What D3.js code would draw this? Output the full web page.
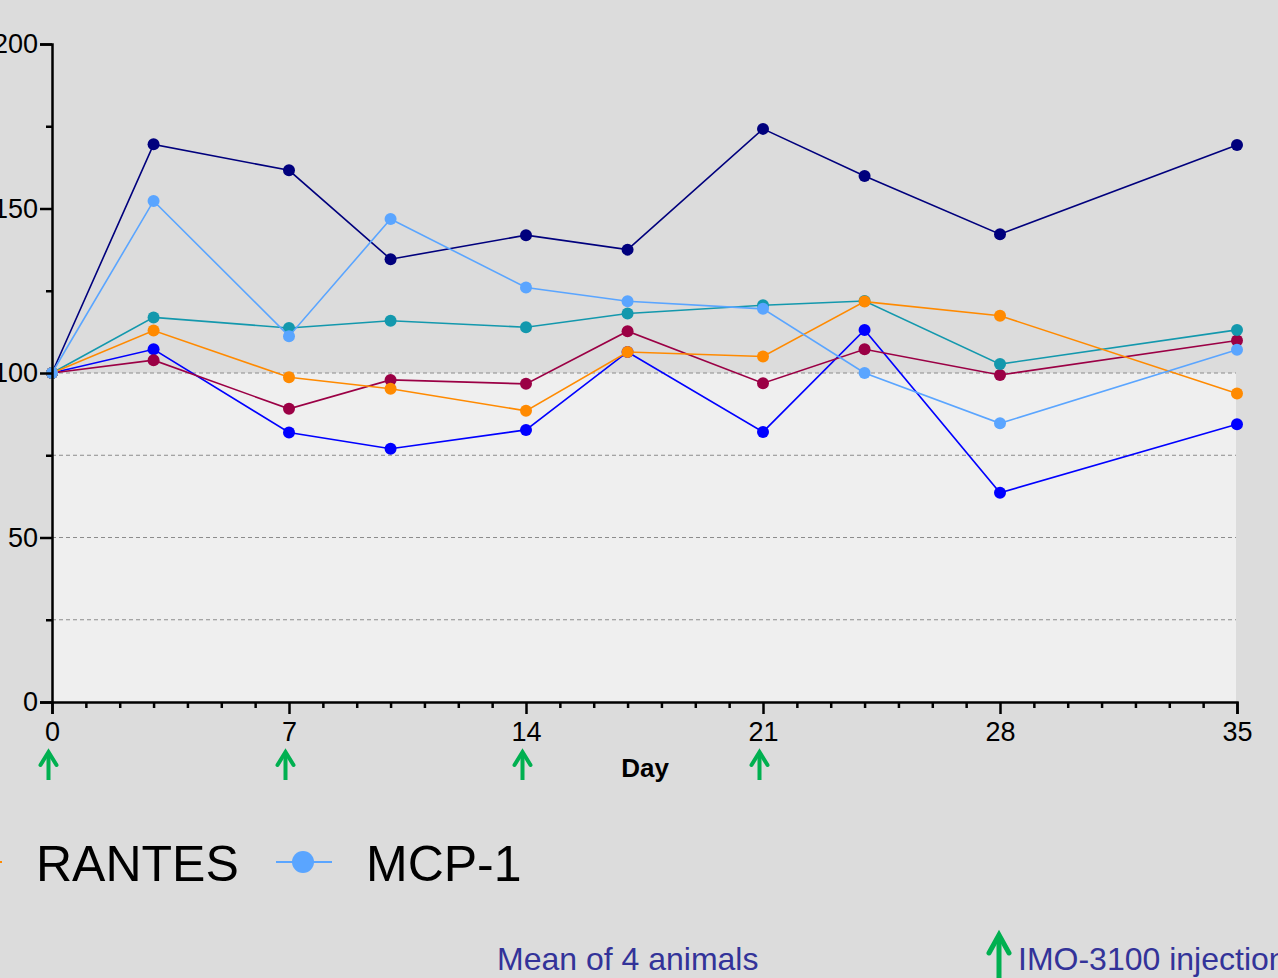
<!DOCTYPE html>
<html>
<head>
<meta charset="utf-8">
<script src="https://cdn.jsdelivr.net/npm/d3@7"></script>
<style>
  html, body { margin: 0; padding: 0; background: #dcdcdc; overflow: hidden; }
  svg { display: block; font-family: "Liberation Sans", Arial, sans-serif; }
</style>
</head>
<body>
<svg id="chart" width="1278" height="978"></svg>
<script>
// Sampling days and percent-of-baseline values per cytokine series
const days = [0, 3, 7, 10, 14, 17, 21, 24, 28, 35];
const navySeries   = [100, 169.5, 161.6, 134.6, 141.9, 137.5, 174.2, 159.9, 142.2, 169.3];
const blueSeries   = [100, 107.2, 81.9, 77.0, 82.7, 106.4, 82.1, 113.1, 63.6, 84.4];
const maroonSeries = [100, 103.9, 89.1, 97.9, 96.7, 112.7, 96.9, 107.2, 99.4, 109.9];
const tealSeries   = [100, 116.9, 113.7, 115.9, 113.9, 118.1, 120.6, 121.9, 102.7, 113.1];
const rantes       = [100, 112.9, 98.7, 95.2, 88.5, 106.4, 105.0, 121.7, 117.4, 93.8];
const mcp1         = [100, 152.3, 111.2, 146.8, 126.0, 121.8, 119.5, 100.0, 84.7, 107.1];

const xTicks = [0, 7, 14, 21, 28, 35];
const yTicks = [0, 50, 100, 150, 200];
const gridValues = [25, 50, 75, 100];
const injectionDays = [0, 7, 14, 21];
const legendNames = ["RANTES", "MCP-1"];

const series = [
  { values: navySeries,   color: "#00007d" },
  { values: blueSeries,   color: "#0000ff" },
  { values: maroonSeries, color: "#9b0045" },
  { values: tealSeries,   color: "#1398ad" },
  { values: rantes,       color: "#ff8a00" },
  { values: mcp1,         color: "#5aa5ff" }
];
const legendColors = ["#ff8a00", "#5aa5ff"];

const svg = d3.select("#chart");
const x = d3.scaleLinear().domain([0, 35]).range([52, 1237]);
const y = d3.scaleLinear().domain([0, 200]).range([702, 44]);

// Lighter band below the 100% baseline
svg.append("rect")
  .attr("x", x(0)).attr("y", y(100))
  .attr("width", x(35) - x(0) - 1).attr("height", y(0) - y(100))
  .attr("fill", "#efefef");

// Dashed reference lines
svg.append("g").selectAll("line").data(gridValues).join("line")
  .attr("x1", x(0)).attr("x2", x(35) - 1)
  .attr("y1", d => y(d)).attr("y2", d => y(d))
  .attr("stroke", "#8c8c8c").attr("stroke-width", 1)
  .attr("stroke-dasharray", "4,3");

// Series lines and markers
const line = d3.line().x((d, i) => x(days[i])).y(d => y(d));
const sg = svg.append("g");
series.forEach(s => {
  const g = sg.append("g");
  g.append("path").datum(s.values)
    .attr("d", line).attr("fill", "none")
    .attr("stroke", s.color).attr("stroke-width", 1.6);
  g.selectAll("circle").data(s.values).join("circle")
    .attr("cx", (d, i) => x(days[i])).attr("cy", d => y(d))
    .attr("r", 6).attr("fill", s.color);
});

// Y axis
const yAxis = d3.axisLeft(y).tickValues(yTicks).tickSize(12).tickPadding(2)
  .tickFormat(d3.format("d"));
const ya = svg.append("g").attr("transform", `translate(${x(0)},0)`).call(yAxis);
ya.select(".domain").attr("stroke", "#000").attr("stroke-width", 2.5);
ya.selectAll(".tick line").attr("stroke", "#000").attr("stroke-width", 2.5);
ya.selectAll(".tick text").attr("font-size", 27).attr("fill", "#000")
  .attr("font-family", "Liberation Sans, Arial, sans-serif");
const yMinor = d3.axisLeft(y).tickValues([25, 75, 125, 175]).tickSize(6).tickFormat("");
const ym = svg.append("g").attr("transform", `translate(${x(0)},0)`).call(yMinor);
ym.select(".domain").remove();
ym.selectAll(".tick line").attr("stroke", "#000").attr("stroke-width", 2.5);

// X axis
const xAxis = d3.axisBottom(x).tickValues(xTicks).tickSize(12).tickPadding(8)
  .tickFormat(d3.format("d"));
const xa = svg.append("g").attr("transform", `translate(0,${y(0)})`).call(xAxis);
xa.select(".domain").attr("stroke", "#000").attr("stroke-width", 2.5);
xa.selectAll(".tick line").attr("stroke", "#000").attr("stroke-width", 2.5);
xa.selectAll(".tick text").attr("font-size", 27).attr("fill", "#000")
  .attr("font-family", "Liberation Sans, Arial, sans-serif");
const minorDays = d3.range(1, 35).filter(d => d % 7 !== 0);
const xMinor = d3.axisBottom(x).tickValues(minorDays).tickSize(6).tickFormat("");
const xm = svg.append("g").attr("transform", `translate(0,${y(0)})`).call(xMinor);
xm.select(".domain").remove();
xm.selectAll(".tick line").attr("stroke", "#000").attr("stroke-width", 2.5);

// Axis title
svg.append("text").attr("x", 645).attr("y", 777)
  .attr("text-anchor", "middle").attr("font-size", 26).attr("font-weight", "bold")
  .attr("fill", "#000").text("Day");

// Injection arrows
function arrow(g, cx, top, bottom, halfW, headH, w) {
  g.append("line").attr("x1", cx).attr("x2", cx).attr("y1", top + 3).attr("y2", bottom)
    .attr("stroke", "#00b050").attr("stroke-width", w);
  g.append("path")
    .attr("d", `M${cx - halfW},${top + headH} L${cx},${top + 1} L${cx + halfW},${top + headH}`)
    .attr("fill", "none").attr("stroke", "#00b050").attr("stroke-width", w)
    .attr("stroke-linecap", "round").attr("stroke-linejoin", "miter");
}
const ag = svg.append("g");
injectionDays.forEach(d => arrow(ag, x(d) - 3.5, 751, 780, 8, 14, 4));

// Legend
const legendY = 862;
const legendX0 = [-54, 276];
const lg = svg.append("g");
legendNames.forEach((name, i) => {
  const lx = legendX0[i];
  lg.append("line").attr("x1", lx).attr("x2", lx + 56)
    .attr("y1", legendY).attr("y2", legendY)
    .attr("stroke", legendColors[i]).attr("stroke-width", 2);
  lg.append("circle").attr("cx", lx + 27).attr("cy", legendY).attr("r", 11)
    .attr("fill", legendColors[i]);
  lg.append("text").attr("x", lx + 90).attr("y", 881)
    .attr("font-size", 50).attr("fill", "#000").text(name);
});

// Footnotes
svg.append("text").attr("x", 497).attr("y", 970)
  .attr("font-size", 32).attr("fill", "#333399").text("Mean of 4 animals");
arrow(svg.append("g"), 999, 934, 990, 10, 19, 5);
svg.append("text").attr("x", 1018).attr("y", 970)
  .attr("font-size", 32).attr("fill", "#333399").text("IMO-3100 injection");
</script>
</body>
</html>
